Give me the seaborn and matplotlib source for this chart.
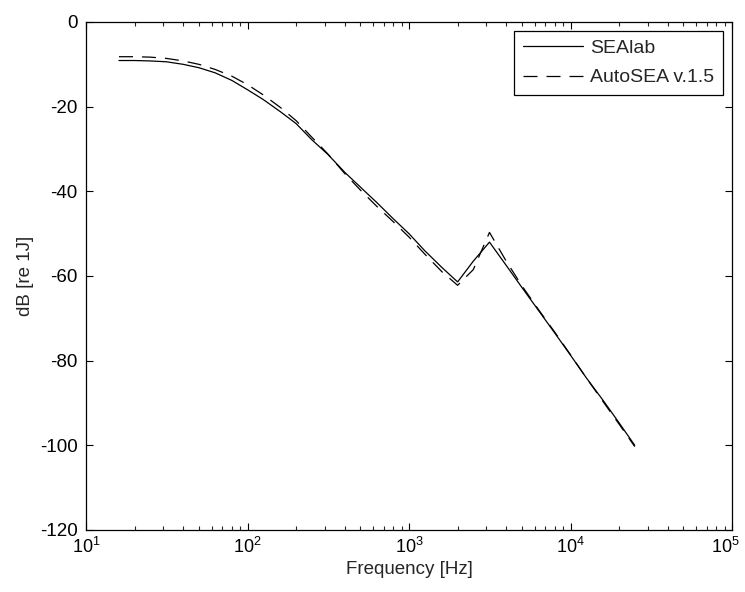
import numpy as np
import pandas as pd
import matplotlib
matplotlib.use("Agg")
import matplotlib.pyplot as plt
import seaborn as sns
from matplotlib.ticker import LogLocator, FixedLocator
from matplotlib.transforms import ScaledTranslation

freq = [16, 20, 25, 31.5, 40, 50, 63, 80, 100, 125, 160, 200, 250, 315, 400, 500,
        630, 800, 1000, 1250, 1600, 2000, 2500, 3150, 4000, 5000, 6300, 8000,
        10000, 12500, 16000, 20000, 25000]
sealab = [-9.1, -9.1, -9.2, -9.4, -10.0, -10.8, -12.0, -13.8, -16.0, -18.3, -21.2,
          -24.0, -27.8, -31.3, -35.5, -39.0, -42.6, -46.5, -50.0, -54.0, -58.0,
          -61.4, -56.5, -52.0, -57.5, -62.7, -68.0, -73.5, -78.7, -84.0, -89.5,
          -94.7, -100.0]
autosea = [-8.2, -8.2, -8.3, -8.6, -9.2, -10.0, -11.2, -12.8, -14.8, -17.2, -20.2,
           -23.3, -27.2, -31.2, -35.8, -39.7, -43.5, -47.2, -50.8, -54.8, -59.0,
           -62.2, -58.5, -49.7, -56.5, -62.3, -67.8, -73.3, -78.6, -84.0, -89.8,
           -95.0, -100.3]
series_names = ["SEAlab", "AutoSEA v.1.5"]
y_ticks = [-120, -100, -80, -60, -40, -20, 0]
x_ticks = [1e1, 1e2, 1e3, 1e4, 1e5]

df = pd.DataFrame({
    "freq": freq * 2,
    "dB": sealab + autosea,
    "series": [series_names[0]] * len(freq) + [series_names[1]] * len(freq),
})

sns.set_style("ticks")
plt.rcParams["font.family"] = ["Liberation Sans", "DejaVu Sans"]
plt.rcParams["mathtext.default"] = "regular"
plt.rcParams["axes.unicode_minus"] = False
plt.rcParams["xtick.direction"] = "in"
plt.rcParams["ytick.direction"] = "in"

FS = 13.5

fig = plt.figure(figsize=(7.45, 5.92), dpi=100)
ax = fig.add_axes([86/745, 1 - 530/592, (732-86)/745, (530-22)/592])

sns.lineplot(data=df, x="freq", y="dB", hue="series", style="series",
             palette=["black", "black"], dashes=[(None, None), (11.2, 7.2)],
             linewidth=0.9, ax=ax, legend=True, estimator=None, sort=False)

ax.set_xscale("log")
ax.set_xlim(10, 1e5)
ax.set_ylim(-120, 0)
ax.yaxis.set_major_locator(FixedLocator(y_ticks))
ax.xaxis.set_major_locator(FixedLocator(x_ticks))
ax.xaxis.set_minor_locator(LogLocator(base=10, subs=np.arange(2, 10), numticks=20))
ax.tick_params(axis="both", which="major", direction="in", length=5, width=0.8,
               top=True, right=True, labelsize=FS, colors="black")
ax.tick_params(axis="y", which="major", pad=6)
ax.tick_params(axis="x", which="major", pad=5, labelsize=13)
ax.tick_params(axis="x", which="minor", direction="in", length=3, width=0.8,
               top=True, bottom=True)
for s in ax.spines.values():
    s.set_visible(True)
    s.set_linewidth(0.9)
    s.set_color("black")

ax.set_xlabel("Frequency [Hz]", fontsize=FS, labelpad=3)
ax.set_ylabel("dB [re 1J]", fontsize=FS, labelpad=4)

leg = ax.legend(loc="upper right", fontsize=14, frameon=True, fancybox=False,
                edgecolor="black", handlelength=3.09, borderpad=0.45,
                labelspacing=0.6, handletextpad=0.4, borderaxespad=0.45)
leg.get_frame().set_linewidth(0.9)
leg.get_frame().set_alpha(1)

# keep the last decade label inside the figure edge
fig.canvas.draw()
last = ax.xaxis.get_major_ticks()[-1]
last.label1.set_transform(last.label1.get_transform()
                          + ScaledTranslation(-7 / 100, 0, fig.dpi_scale_trans))

fig.savefig("out.png", dpi=100, facecolor="white")
